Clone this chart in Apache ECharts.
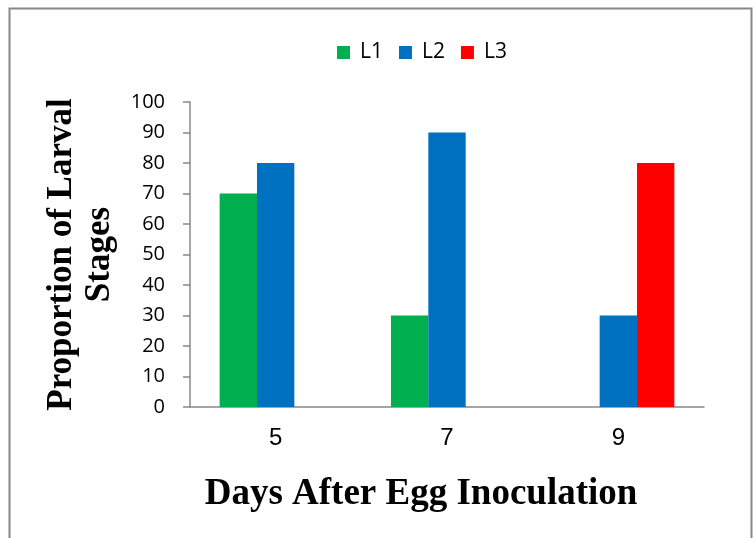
<!DOCTYPE html>
<html>
<head>
<meta charset="utf-8">
<script src="https://cdn.jsdelivr.net/npm/echarts@6/dist/echarts.min.js"></script>
<style>
html,body{margin:0;padding:0;background:#fff;}
#chart{width:756px;height:538px;}
</style>
</head>
<body>
<div id="chart"></div>
<script>
// days after inoculation
var days = ['5', '7', '9'];
// proportion of each larval stage
var l1 = [70, 30, 0];
var l2 = [80, 90, 30];
var l3 = [0, 0, 80];

var chart = echarts.init(document.getElementById('chart'));
chart.setOption({
	animation: false,
	color: ['#00B050', '#0070C0', '#FF0000'],
	legend: {
		data: ['L1', 'L2', 'L3'],
		top: 37,
		left: 332,
		itemWidth: 13,
		itemHeight: 13,
		itemGap: 16,
		icon: 'rect',
		textStyle: {
			fontFamily: 'Open Sans',
			fontSize: 21,
			color: '#000',
			padding: [0, 0, 0, 5]
		}
	},
	grid: {
		left: 190,
		right: 52,
		top: 102,
		bottom: 131
	},
	xAxis: {
		type: 'category',
		data: days,
		axisLine: {lineStyle: {color: '#888', width: 1.5}},
		axisTick: {length: 7, lineStyle: {color: '#888', width: 1.5}},
		axisLabel: {
			fontFamily: 'Liberation Sans',
			fontSize: 24,
			color: '#000',
			margin: 19
		}
	},
	yAxis: {
		type: 'value',
		min: 0,
		max: 100,
		interval: 10,
		name: 'Proportion of Larval\nStages',
		nameLocation: 'middle',
		nameGap: 71,
		nameTextStyle: {
			fontFamily: 'Liberation Serif',
			fontWeight: 'bold',
			fontSize: 35,
			lineHeight: 38,
			color: '#000'
		},
		splitLine: {show: false},
		axisLine: {show: true, lineStyle: {color: '#888', width: 1.5}},
		axisTick: {show: true, length: 7, lineStyle: {color: '#888', width: 1.5}},
		axisLabel: {
			fontFamily: 'Open Sans',
			fontSize: 20,
			color: '#000',
			margin: 25
		}
	},
	graphic: [
		{
			type: 'rect',
			shape: {x: 9.5, y: 8.5, width: 742, height: 540},
			style: {fill: 'none', stroke: '#888', lineWidth: 2},
			silent: true
		},
		{
			type: 'text',
			x: 421,
			y: 494,
			style: {
				text: 'Days After Egg Inoculation',
				font: 'bold 37px "Liberation Serif"',
				fill: '#000',
				textAlign: 'center',
				textVerticalAlign: 'middle'
			}
		}
	],
	series: [
		{name: 'L1', type: 'bar', data: l1, barGap: '0%', barCategoryGap: '34.6%'},
		{name: 'L2', type: 'bar', data: l2, barGap: '0%', barCategoryGap: '34.6%'},
		{name: 'L3', type: 'bar', data: l3, barGap: '0%', barCategoryGap: '34.6%'}
	]
});
</script>
</body>
</html>
